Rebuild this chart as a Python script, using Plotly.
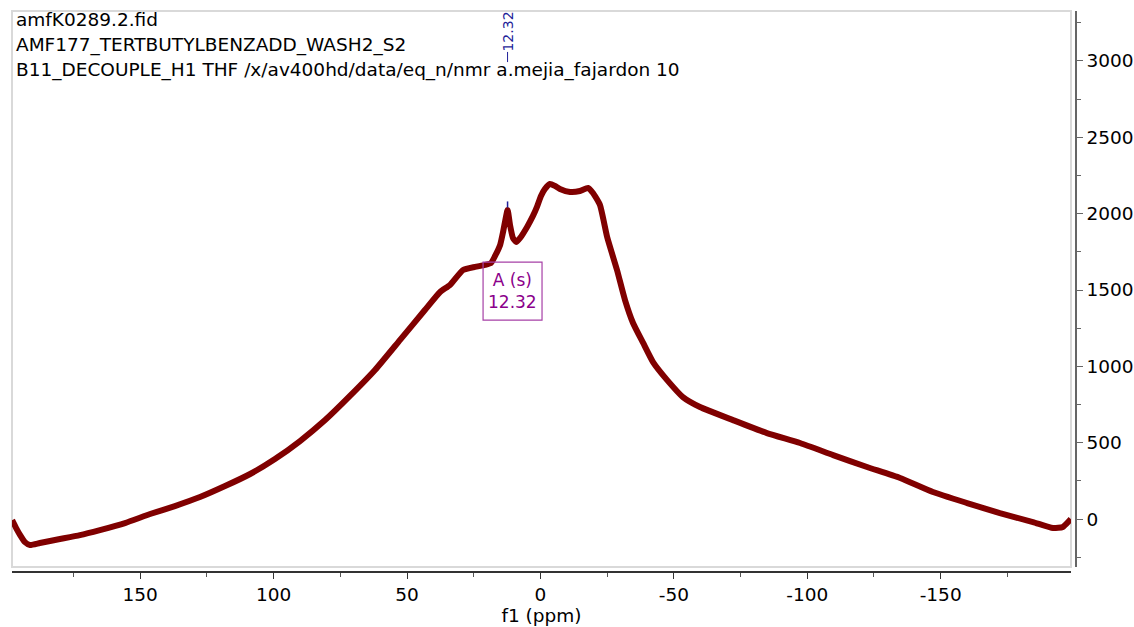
import plotly.graph_objects as go

# ---- data (chemical shift in ppm, intensity) ----
ppm = [198.0, 196.5, 195.0, 193.2, 191.3, 187.6, 180.1, 172.6, 165.1, 155.7,
       146.3, 137.0, 127.6, 118.2, 108.8, 99.5, 90.1, 80.7, 71.4, 62.0,
       52.6, 43.3, 37.6, 33.9, 29.0, 24.5, 20.8, 18.5, 17.0, 15.1,
       14.0, 13.3, 12.3, 11.4, 10.3, 9.1, 7.6, 5.0, 2.8, 1.3,
       -0.2, -1.7, -3.6, -5.5, -7.3, -11.1, -14.8, -17.8, -19.7, -22.3,
       -25.0, -28.7, -31.7, -34.7, -38.5, -42.2, -47.5, -53.4, -59.8, -72.2,
       -84.9, -97.3, -109.7, -122.4, -134.8, -147.1, -159.9, -172.2, -184.6, -192.1,
       -195.8, -198.8]
intensity = [-7, -59, -105, -151, -170, -157, -131, -105, -72, -26,
             33, 85, 144, 216, 295, 393, 511, 648, 806, 976,
             1173, 1369, 1487, 1533, 1631, 1651, 1664, 1677, 1723, 1795,
             1880, 1945, 2024, 1926, 1841, 1814, 1841, 1913, 1985, 2044,
             2116, 2162, 2194, 2181, 2162, 2142, 2148, 2168, 2135, 2057,
             1847, 1631, 1434, 1284, 1153, 1028, 910, 799, 734, 648,
             563, 498, 419, 341, 269, 177, 105, 39, -20, -59,
             -52, 0]

x_tickvals = [150, 100, 50, 0, -50, -100, -150]
x_ticktext = ["150", "100", "50", "0", "-50", "-100", "-150"]
x_minorvals = [175, 125, 75, 25, -25, -75, -125, -175]
y_tickvals = [0, 500, 1000, 1500, 2000, 2500, 3000]
y_ticktext = ["0", "500", "1000", "1500", "2000", "2500", "3000"]
y_minorvals = [-250, 250, 750, 1250, 1750, 2250, 2750, 3250]

header_lines = ["amfK0289.2.fid",
                "AMF177_TERTBUTYLBENZADD_WASH2_S2",
                "B11_DECOUPLE_H1 THF /x/av400hd/data/eq_n/nmr a.mejia_fajardon 10"]
peak_ppm = 12.32
peak_label = "12.32"
mult_label = "A (s)"
mult_box_x = [21.5, -0.6]
mult_box_y = [1303, 1683]

FONT = "DejaVu Sans"
FS = 18.5
XDOM = [0, 0.9953]
YDOM = [0.0089, 1]

fig = go.Figure()
fig.add_trace(go.Scatter(x=ppm, y=intensity, mode="lines",
                         line=dict(color="#800000", width=6, shape="spline", smoothing=0.5),
                         hoverinfo="skip", showlegend=False))

fig.update_layout(
    width=1134, height=627,
    margin=dict(l=12, r=58, t=11, b=55, autoexpand=False),
    paper_bgcolor="white", plot_bgcolor="white",
    font=dict(family=FONT, size=FS, color="black"),
    xaxis=dict(domain=XDOM, range=[198.05, -198.85], anchor="free", position=0,
               showline=True, linecolor="#333333", linewidth=1.5,
               ticks="outside", ticklen=6, tickcolor="#333333",
               tickmode="array", tickvals=x_tickvals, ticktext=x_ticktext,
               minor=dict(tickmode="array", tickvals=x_minorvals, ticks="outside",
                          ticklen=4, tickcolor="#555555", showgrid=False),
               showgrid=False, zeroline=False, automargin=False,
               title=dict(text="f1 (ppm)", font=dict(size=FS), standoff=0)),
    yaxis=dict(domain=YDOM, range=[-314, 3327], anchor="free", position=1, side="right",
               showline=True, linecolor="#666666", linewidth=1.5,
               ticks="outside", ticklen=6, tickcolor="#666666",
               tickmode="array", tickvals=y_tickvals, ticktext=y_ticktext,
               minor=dict(tickmode="array", tickvals=y_minorvals, ticks="outside",
                          ticklen=4, tickcolor="#666666", showgrid=False),
               showgrid=False, zeroline=False, automargin=False),
)

# light grey frame of the plotting area
fig.add_shape(type="rect", xref="paper", yref="paper", x0=XDOM[0], x1=XDOM[1],
              y0=YDOM[0], y1=YDOM[1], line=dict(color="#d9d9d9", width=2), layer="below")

# header text
for i, t in enumerate(header_lines):
    fig.add_annotation(text=t, xref="paper", yref="paper", x=0.0019,
                       y=0.984 - i * 0.0445, xanchor="left", yanchor="middle",
                       showarrow=False, font=dict(size=FS, color="black"))

# peak label
fig.add_annotation(text=peak_label, x=peak_ppm, xref="x", yref="paper", y=0.9626,
                   textangle=-90, showarrow=False, xanchor="center", yanchor="middle",
                   font=dict(size=14, color="#1f1f99"))
fig.add_shape(type="line", x0=peak_ppm, x1=peak_ppm, xref="x", yref="paper",
              y0=0.909, y1=0.927, line=dict(color="#1f1f99", width=1))
fig.add_shape(type="line", x0=peak_ppm, x1=peak_ppm, xref="x", yref="y",
              y0=2040, y1=2080, line=dict(color="#1f1f99", width=1.5))

# multiplet box
fig.add_shape(type="rect", xref="x", yref="y", x0=mult_box_x[0], x1=mult_box_x[1],
              y0=mult_box_y[0], y1=mult_box_y[1],
              line=dict(color="#a640a6", width=1.2), layer="above")
fig.add_annotation(text=mult_label + "<br>" + peak_label, xref="x", yref="y",
                   x=(mult_box_x[0] + mult_box_x[1]) / 2, y=(mult_box_y[0] + mult_box_y[1]) / 2,
                   showarrow=False, font=dict(size=17, color="#8b008b"),
                   xanchor="center", yanchor="middle")

fig.write_html("out.html", config={"displayModeBar": False},
               post_script="document.body.style.margin='0px';"
                           "document.body.style.overflow='hidden';")
